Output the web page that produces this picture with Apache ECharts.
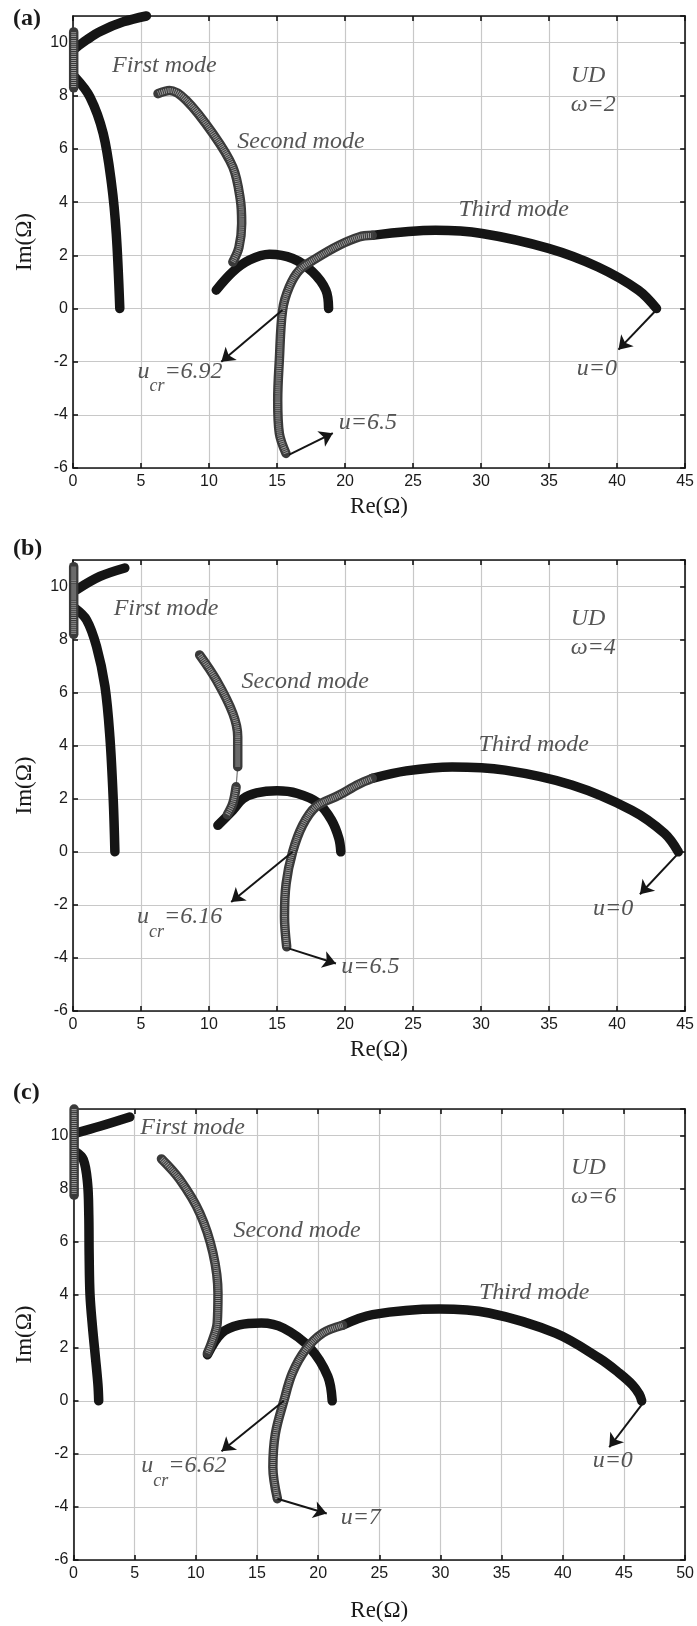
<!DOCTYPE html>
<html><head><meta charset="utf-8">
<script src="https://cdn.jsdelivr.net/npm/echarts/dist/echarts.min.js"></script>
<style>html,body{margin:0;padding:0;background:#fff}#c{width:697px;height:1626px}</style>
</head><body><div id="c"></div>
<script>
// ---------- data ----------
// axis ticks
const xTicksA = [0,5,10,15,20,25,30,35,40,45];
const xTicksC = [0,5,10,15,20,25,30,35,40,45,50];
const yTicks = [-6,-4,-2,0,2,4,6,8,10];

// Panel (a)  UD, omega = 2
const a_first_axis  = [[0.05,10.4],[0.05,8.3]];
const a_first_upper = [[0.2,9.8],[1.0,10.1],[2.0,10.42],[3.7,10.78],[5.4,11.0]];
const a_first_lower = [[0.15,8.7],[1.25,7.95],[2.22,6.58],[2.83,4.7],[3.18,2.82],[3.44,0]];
const a_second_gray = [[6.25,8.08],[7.1,8.2],[8.33,7.83],[10.28,6.58],[11.75,5.32],[12.3,4.1],[12.4,3.2],[12.2,2.3],[11.75,1.75]];
const a_second_black= [[10.53,0.69],[11.75,1.38],[12.97,1.82],[14.44,2.04],[16.15,1.88],[17.6,1.38],[18.59,0.69],[18.79,0]];
const a_third_gray  = [[15.66,-5.45],[15.17,-4.7],[15.05,-3.45],[15.17,-1.94],[15.41,-0.06],[15.9,0.81],[16.64,1.44],[17.86,1.88],[19.57,2.38],[21.03,2.69],[22.0,2.75]];
const a_third_black = [[22.0,2.75],[26.65,2.94],[30.07,2.82],[34.96,2.26],[38.6,1.56],[41.56,0.69],[42.9,0]];
const a_arrows = [[[15.4,-0.06],[10.9,-2.0]], [[15.9,-5.5],[19.1,-4.69]], [[42.9,-0.05],[40.1,-1.55]]];
const a_texts = [[2.83,9.13,'First mode'],[12.04,6.26,'Second mode'],[28.3,3.7,'Third mode'],
  [36.55,8.75,'UD'],[36.55,7.67,'ω=2'],[4.7,-2.37,'{i|u}{s|cr}{i|=6.92}'],[19.5,-4.31,'u=6.5'],[37.0,-2.25,'u=0']];

// Panel (b)  UD, omega = 4
const b_first_axis  = [[0.05,10.75],[0.05,8.2]];
const b_first_upper = [[0.27,9.88],[1.98,10.38],[3.81,10.7]];
const b_first_lower = [[0.15,9.18],[1.0,8.74],[1.73,7.74],[2.35,6.23],[2.71,4.34],[2.96,1.95],[3.08,0]];
const b_second_gray1= [[9.31,7.42],[10.53,6.48],[11.75,5.22],[12.11,4.34],[12.11,3.21]];
const b_second_thin = [[12.11,3.21],[11.99,2.45]];
const b_second_gray2= [[11.99,2.45],[11.75,1.83],[11.35,1.4]];
const b_second_black= [[10.65,1.0],[11.75,1.57],[12.5,2.0],[13.5,2.22],[15.0,2.3],[16.5,2.2],[18.0,1.85],[19.0,1.2],[19.55,0.5],[19.69,0]];
const b_third_gray  = [[15.71,-3.58],[15.55,-2.45],[15.67,-1.19],[16.15,0],[16.88,1.0],[17.86,1.7],[19.57,2.14],[21.0,2.55],[22.0,2.77]];
const b_third_black = [[22.0,2.77],[24.5,3.05],[27.87,3.2],[31.76,3.08],[36.67,2.52],[41.07,1.57],[43.5,0.69],[44.5,0]];
const b_arrows = [[[16.15,0],[11.63,-1.89]], [[15.9,-3.65],[19.33,-4.21]], [[44.5,-0.06],[41.68,-1.6]]];
const b_texts = [[2.95,9.15,'First mode'],[12.36,6.42,'Second mode'],[29.78,4.03,'Third mode'],
  [36.55,8.77,'UD'],[36.55,7.71,'ω=4'],[4.67,-2.45,'{i|u}{s|cr}{i|=6.16}'],[19.69,-4.34,'u=6.5'],[38.2,-2.14,'u=0']];

// Panel (c)  UD, omega = 6
const c_first_axis  = [[0.05,11.0],[0.05,7.75]];
const c_first_upper = [[0.26,10.1],[2.16,10.35],[4.6,10.7]];
const c_first_lower = [[0.12,9.41],[0.8,9.1],[1.15,8.2],[1.25,7.0],[1.28,5.5],[1.35,4.0],[1.55,2.8],[1.8,1.6],[2.0,0.6],[2.06,0]];
const c_second_gray = [[7.19,9.12],[8.69,8.34],[10.32,7.08],[11.4,5.57],[11.81,4.06],[11.75,2.94],[11.3,2.2],[10.95,1.8]];
const c_second_black= [[10.95,1.74],[12.1,2.55],[13.56,2.86],[15.36,2.93],[17.17,2.74],[19.34,1.99],[20.79,0.92],[21.15,0]];
const c_third_gray  = [[16.67,-3.69],[16.3,-2.5],[16.5,-1.25],[17.2,0],[17.9,1.05],[18.98,1.93],[20.4,2.56],[22.0,2.85]];
const c_third_black = [[22.0,2.85],[24.45,3.25],[29.9,3.46],[33.97,3.31],[39.4,2.55],[43.0,1.6],[44.6,1.05],[45.7,0.6],[46.25,0.25],[46.45,0]];
const c_arrows = [[[17.2,0],[12.1,-1.9]], [[16.67,-3.69],[20.7,-4.25]], [[46.6,-0.06],[43.8,-1.75]]];
const c_texts = [[5.42,10.29,'First mode'],[13.03,6.42,'Second mode'],[33.1,4.06,'Third mode'],
  [40.64,8.78,'UD'],[40.64,7.71,'ω=6'],[5.5,-2.45,'{i|u}{s|cr}{i|=6.62}'],[21.8,-4.4,'u=7'],[42.4,-2.25,'u=0']];

const panelLetters = ['(a)','(b)','(c)'];

// ---------- layout & style ----------
const SERIF = '"Liberation Serif","Times New Roman",serif';
const SANS = '"Liberation Sans",Arial,sans-serif';
const INK = '#151515';
const layouts = [
  {left:73, top:16, width:614, height:452, xTicks:xTicksA, nameGapX:27, letterY:20},
  {left:73, top:560, width:614, height:451, xTicks:xTicksA, nameGapX:27, letterY:550},
  {left:73.5, top:1109, width:613, height:451, xTicks:xTicksC, nameGapX:39, letterY:1094}
];
const panels = [
  {black:[a_first_upper,a_first_lower,a_second_black,a_third_black], gray:[a_first_axis,a_second_gray,a_third_gray], thin:[], arrows:a_arrows, texts:a_texts},
  {black:[b_first_upper,b_first_lower,b_second_black,b_third_black], gray:[b_first_axis,b_second_gray1,b_second_gray2,b_third_gray], thin:[b_second_thin], arrows:b_arrows, texts:b_texts},
  {black:[c_first_upper,c_first_lower,c_second_black,c_third_black], gray:[c_first_axis,c_second_gray,c_third_gray], thin:[], arrows:c_arrows, texts:c_texts}
];

const grids=[], xAxes=[], yAxes=[], series=[], graphics=[];
const axLine = {show:true, onZero:false, lineStyle:{color:INK, width:1.6}};
const axTick = {show:true, inside:true, length:5, lineStyle:{color:INK, width:1.6}};
layouts.forEach((L,i)=>{
  const xMin = L.xTicks[0], xMax = L.xTicks[L.xTicks.length-1];
  grids.push({left:L.left, top:L.top, width:L.width, height:L.height, containLabel:false});
  xAxes.push({type:'value', gridIndex:i, position:'bottom', min:xMin, max:xMax, interval:5,
    axisLine:axLine, axisTick:axTick,
    splitLine:{show:true, lineStyle:{color:'#c8c8c8', width:1.2}},
    axisLabel:{fontFamily:SANS, fontSize:16, color:'#1a1a1a', margin:6},
    name:'Re(Ω)', nameLocation:'middle', nameGap:L.nameGapX,
    nameTextStyle:{fontFamily:SERIF, fontSize:23, color:'#1a1a1a'}});
  xAxes.push({type:'value', gridIndex:i, position:'top', min:xMin, max:xMax, interval:5,
    axisLine:axLine, axisTick:axTick, splitLine:{show:false}, axisLabel:{show:false}});
  yAxes.push({type:'value', gridIndex:i, position:'left', min:yTicks[0], max:11, interval:2,
    axisLine:axLine, axisTick:axTick,
    splitLine:{show:true, lineStyle:{color:'#c8c8c8', width:1.2}},
    axisLabel:{fontFamily:SANS, fontSize:16, color:'#1a1a1a', margin:5, showMaxLabel:false},
    name:'Im(Ω)', nameLocation:'middle', nameGap:37, nameRotate:90,
    nameTextStyle:{fontFamily:SERIF, fontSize:23, color:'#1a1a1a'}});
  yAxes.push({type:'value', gridIndex:i, position:'right', min:yTicks[0], max:11, interval:2,
    axisLine:axLine, axisTick:axTick, splitLine:{show:false}, axisLabel:{show:false}});

  const P = panels[i];
  const base = {type:'line', xAxisIndex:2*i, yAxisIndex:2*i, symbol:'none', smooth:0.35, clip:false, silent:true, animation:false};
  P.black.forEach(d=>series.push(Object.assign({}, base, {data:d, z:3,
    lineStyle:{color:INK, width:9.5, cap:'round', join:'round'}})));
  P.thin.forEach(d=>series.push(Object.assign({}, base, {data:d, z:4, smooth:false,
    lineStyle:{color:'#777', width:1.2}})));
  P.gray.forEach(d=>{
    series.push(Object.assign({}, base, {data:d, z:5, lineStyle:{color:'#3a3a3a', width:9.5, cap:'round', join:'round'}}));
    series.push(Object.assign({}, base, {data:d, z:6, lineStyle:{color:'#9a9a9a', width:5, type:[1,1], cap:'butt', join:'round'}}));
  });
  series.push({type:'lines', coordinateSystem:'cartesian2d', xAxisIndex:2*i, yAxisIndex:2*i, z:7,
    silent:true, animation:false, symbol:['none','arrow'], symbolSize:13,
    lineStyle:{color:INK, width:2, opacity:1, curveness:0},
    data:P.arrows.map(a=>({coords:a}))});
  series.push({type:'scatter', xAxisIndex:2*i, yAxisIndex:2*i, z:8, silent:true, animation:false,
    symbol:'circle', symbolSize:1, itemStyle:{color:'rgba(0,0,0,0)'}, clip:false,
    data:P.texts.map(t=>({value:[t[0],t[1]], name:t[2]})),
    label:{show:true, position:'right', distance:0, formatter:p=>p.name,
      fontFamily:SERIF, fontStyle:'italic', fontSize:24, color:'#2a2a2a',
      rich:{i:{fontFamily:SERIF, fontStyle:'italic', fontSize:24, color:'#2a2a2a'},
            s:{fontFamily:SERIF, fontStyle:'italic', fontSize:18, color:'#2a2a2a', padding:[30,0,0,0]}}}});
  graphics.push({type:'text', left:13, top:L.letterY-13,
    style:{text:panelLetters[i], font:'bold 24px '+SERIF, fill:'#1a1a1a'}});
});

const chart = echarts.init(document.getElementById('c'), null, {renderer:'canvas'});
chart.setOption({animation:false, backgroundColor:'#fff', grid:grids, xAxis:xAxes, yAxis:yAxes, series:series, graphic:graphics});
</script></body></html>
